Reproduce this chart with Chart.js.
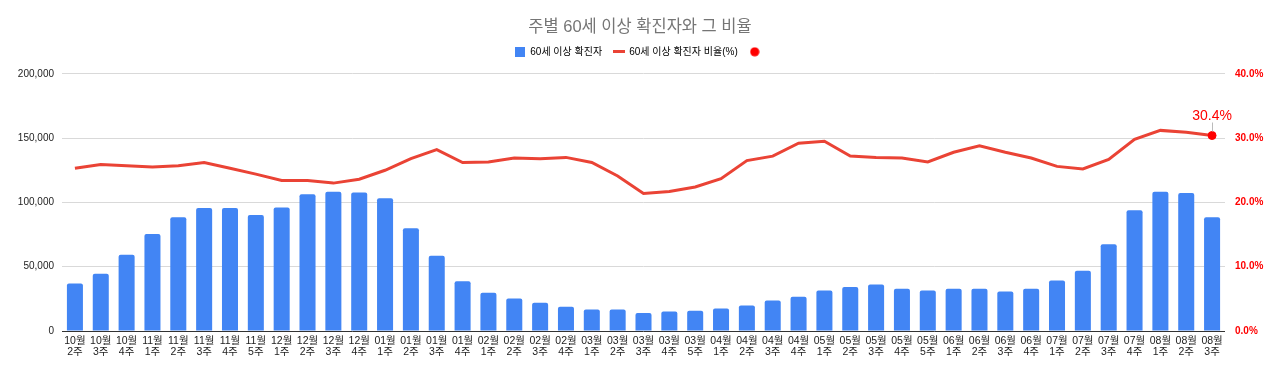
<!DOCTYPE html>
<html><head><meta charset="utf-8">
<script src="https://cdn.jsdelivr.net/npm/chart.js@4/dist/chart.umd.min.js"></script>
<style>html,body{margin:0;padding:0;background:#fff}#wrap{width:1280px;height:374px}</style>
</head><body><div id="wrap"><canvas id="c" width="1280" height="374"></canvas></div>
<script>
const months = ['10월','10월','10월','11월','11월','11월','11월','11월','12월','12월','12월','12월','01월','01월','01월','01월','02월','02월','02월','02월','03월','03월','03월','03월','03월','04월','04월','04월','04월','05월','05월','05월','05월','05월','06월','06월','06월','06월','07월','07월','07월','07월','08월','08월','08월'];
const weeks = ['2주','3주','4주','1주','2주','3주','4주','5주','1주','2주','3주','4주','1주','2주','3주','4주','1주','2주','3주','4주','1주','2주','3주','4주','5주','1주','2주','3주','4주','1주','2주','3주','4주','5주','1주','2주','3주','4주','1주','2주','3주','4주','1주','2주','3주'];
const cases = [36900,44600,59300,75500,88400,95600,95600,90200,96100,106400,108200,107700,103300,79900,58500,38600,29700,25300,21900,18900,16800,16800,13900,15200,15800,17500,19900,23700,26600,31500,34300,36100,32800,31500,32800,32800,30700,32800,39200,46900,67500,93800,108200,107400,88400];
const ratio = [25.3,25.9,25.7,25.5,25.7,26.2,25.3,24.4,23.4,23.4,23.0,23.6,25.0,26.8,28.2,26.2,26.3,26.9,26.8,27.0,26.2,24.1,21.4,21.7,22.4,23.7,26.5,27.2,29.2,29.5,27.2,27.0,26.9,26.3,27.8,28.8,27.8,26.9,25.6,25.2,26.7,29.8,31.2,30.9,30.4];
const leftTicks = [0,50000,100000,150000,200000];
const rightTicks = [0,10,20,30,40];
const title = '주별 60세 이상 확진자와 그 비율';
const seriesNames = ['60세 이상 확진자','60세 이상 확진자 비율(%)',''];

const labels = months.map((m,i)=>[m, weeks[i]]);
const lastIdx = ratio.length-1;
const dotData = ratio.map((v,i)=> i===lastIdx ? v : null);
const FONT = "Arial, 'Liberation Sans', 'Noto Sans CJK KR', sans-serif";

function icon(kind, color){
  const c = document.createElement('canvas');
  const x = c.getContext('2d');
  if(kind==='rect'){ c.width=10; c.height=10; x.fillStyle=color; x.fillRect(0,0,10,10); }
  else if(kind==='line'){ c.width=12; c.height=3; x.fillStyle=color; x.fillRect(0,0,12,3); }
  else { c.width=10; c.height=10; x.fillStyle=color; x.beginPath(); x.arc(5,5,4.6,0,Math.PI*2); x.fill(); }
  return c;
}
const icons = [icon('rect','#4285f4'), icon('line','#ea4335'), icon('circle','#ff0000')];

const endLabel = {
  id:'endLabel',
  beforeUpdate(chart){
    if(chart.legend && !chart.legend._patched){
      const lg = chart.legend; const orig = lg.fit.bind(lg);
      lg.fit = function(){ orig(); this.height += 7; };
      lg._patched = true;
    }
  },
  afterDatasetsDraw(chart){
    const meta = chart.getDatasetMeta(2);
    const pt = meta.data[lastIdx];
    if(!pt) return;
    const ctx = chart.ctx;
    ctx.save();
    ctx.strokeStyle = '#bbbbbb';
    ctx.lineWidth = 1;
    ctx.beginPath();
    ctx.moveTo(Math.round(pt.x)+0.5, pt.y-4);
    ctx.lineTo(Math.round(pt.x)+0.5, pt.y-13);
    ctx.stroke();
    ctx.fillStyle = '#ff0000';
    ctx.font = '14px ' + FONT;
    ctx.textAlign = 'center';
    ctx.textBaseline = 'alphabetic';
    ctx.fillText(ratio[lastIdx].toFixed(1)+'%', pt.x, pt.y-16);
    ctx.restore();
  }
};

new Chart(document.getElementById('c'), {
  data:{
    labels,
    datasets:[
      {type:'bar', label:seriesNames[0], data:cases, yAxisID:'y', backgroundColor:'#4285f4', borderRadius:2, barPercentage:0.62, categoryPercentage:1, order:3},
      {type:'line', label:seriesNames[1], data:ratio, yAxisID:'y1', borderColor:'#ea4335', backgroundColor:'#ea4335', borderWidth:3, pointRadius:0, tension:0, order:2},
      {type:'line', label:seriesNames[2], data:dotData, yAxisID:'y1', showLine:false, pointRadius:4, pointBackgroundColor:'#ff0000', pointBorderColor:'#ff0000', order:1}
    ]
  },
  options:{
    responsive:false, animation:false,
    layout:{padding:{top:18,left:0,right:0,bottom:0}},
    plugins:{
      title:{display:true, text:title, color:'#757575', font:{family:FONT,size:16.5,weight:'normal'}, padding:{top:0,bottom:-3}},
      legend:{display:true, position:'top', labels:{
        font:{family:FONT,size:10}, color:'#222', usePointStyle:true, boxHeight:10, boxWidth:10, padding:12,
        generateLabels(chart){
          return seriesNames.map((t,i)=>({text:t, fillStyle:'#000', strokeStyle:'#000', lineWidth:0, pointStyle:icons[i], datasetIndex:i, hidden:false}));
        }
      }},
      tooltip:{enabled:false}
    },
    scales:{
      x:{
        offset:true,
        grid:{display:false, drawTicks:false}, border:{display:false},
        ticks:{font:{family:FONT,size:10.5,lineHeight:1.0}, color:'#222', maxRotation:0, minRotation:0, autoSkip:false, padding:5},
        afterFit(s){ s.height = 43; }
      },
      y:{
        position:'left', min:0, max:200000,
        afterBuildTicks(s){ s.ticks = leftTicks.map(v=>({value:v})); },
        grid:{color:(c)=> c.tick && c.tick.value===0 ? '#333333' : '#d9d9d9', drawTicks:false, lineWidth:1},
        border:{display:false},
        ticks:{font:{family:FONT,size:10}, color:'#222', padding:8, callback:(v)=>v.toLocaleString('en-US')},
        afterFit(s){ s.width = 62; }
      },
      y1:{
        position:'right', min:0, max:40,
        afterBuildTicks(s){ s.ticks = rightTicks.map(v=>({value:v})); },
        grid:{display:false, drawTicks:false}, border:{display:false},
        ticks:{font:{family:FONT,size:10,weight:'bold'}, color:'#ff0000', padding:10, callback:(v)=>Number(v).toFixed(1)+'%'},
        afterFit(s){ s.width = 55; }
      }
    }
  },
  plugins:[endLabel]
});
</script></body></html>
